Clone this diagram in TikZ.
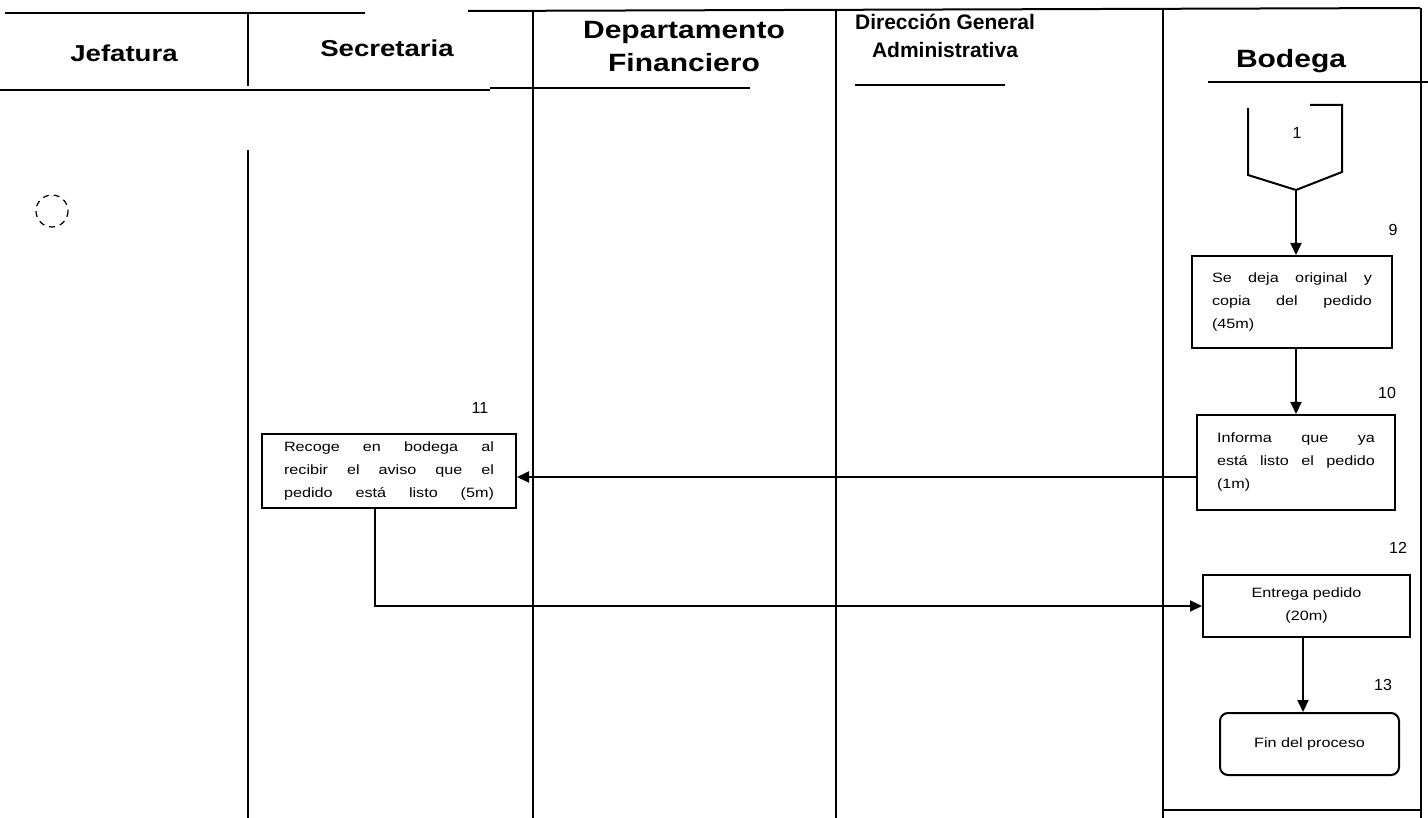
\documentclass[tikz,border=0pt]{standalone}
\usepackage{fontspec}
\setmainfont{Liberation Sans}
\newfontfamily\widesans[FakeStretch=1.2]{Liberation Sans}
\usetikzlibrary{arrows.meta,calc}
\begin{document}
\begin{tikzpicture}[x=1pt,y=-1pt,
  lane/.style={line width=2pt},
  head/.style={font=\widesans\fontsize{25}{33}\selectfont\bfseries, align=center, inner sep=0pt},
  heads/.style={font=\widesans\fontsize{23}{30}\selectfont\bfseries, align=center, inner sep=0pt},
  headn/.style={font=\fontsize{21}{28}\selectfont\bfseries, align=center, inner sep=0pt},
  proc/.style={draw, line width=2pt, align=left, inner sep=0pt,
    font=\widesans\fontsize{13.5}{23}\selectfont},
  fin/.style={proc, rounded corners=8pt, align=center},
  num/.style={font=\fontsize{16}{16}\selectfont, inner sep=0pt},
  arr/.style={line width=2pt, -{Triangle[length=12pt,width=11pt]}},
  link/.style={line width=2pt}
]
\useasboundingbox (0,0) rectangle (1428,818);

% header rules
\draw[lane] (5,13) -- (365,13);
\draw[lane] (468,11) -- (1420,8);
\draw[lane] (0,90) -- (490,90);
\draw[lane] (490,88) -- (750,88);
\draw[lane] (855,85) -- (1005,85);
\draw[lane] (1208,82) -- (1428,82);

% lane dividers
\draw[lane] (248,13) -- (248,86);
\draw[lane] (248,150) -- (248,818);
\draw[lane] (533,12) -- (533,818);
\draw[lane] (836,9) -- (836,818);
\draw[lane] (1163,8) -- (1163,818);
\draw[lane] (1421,8) -- (1421,818);
\draw[lane] (1163,810) -- (1421,810);

% lane titles
\node[heads] (hjef) at (124,53) {Jefatura};
\node[heads] (hsec) at (387,48) {Secretaria};
\node[head] (hfin) at (684,47) {Departamento\\Financiero};
\node[headn] (hdir) at (945,36) {Dirección General\\Administrativa};
\node[head] (hbod) at (1291,61) {Bodega};

% on-page connector in the first lane
\draw[line width=1.2pt, dash pattern=on 6pt off 5pt] (52,211) circle (16);

% off-page connector 1
\coordinate (c1tip) at (1296,190);
\draw[link] (1248,108) -- (1248,175) -- (c1tip) -- (1342,172) -- (1342,105) -- (1310,105);
\node[num] (c1) at (1297,133) {1};

% process steps
\node[proc, minimum width=200, minimum height=92, text width=160] (b9) at (1292,302)
  {Se \hfill deja \hfill original \hfill y\\ copia \hfill del \hfill pedido\\ (45m)};
\node[num] (n9) at (1393,230) {9};

\node[proc, minimum width=198, minimum height=95, text width=158] (b10) at (1296,462.5)
  {Informa \hfill que \hfill ya\\ está \hfill listo \hfill el \hfill pedido\\ (1m)};
\node[num] (n10) at (1387,393) {10};

\node[proc, minimum width=254, minimum height=74, text width=210] (b11) at (389,471)
  {Recoge \hfill en \hfill bodega \hfill al\\ recibir \hfill el \hfill aviso \hfill que \hfill el\\ pedido \hfill está \hfill listo \hfill (5m)};
\node[num] (n11) at (480,408) {11};

\node[proc, align=center, minimum width=207, minimum height=62] (b12) at (1306.5,606)
  {Entrega pedido\\(20m)};
\node[num] (n12) at (1398,548) {12};

\node[fin, minimum width=179, minimum height=62] (b13) at (1309.5,744) {Fin del proceso};
\node[num] (n13) at (1383,685) {13};

% flow
\coordinate (a13) at (1303,0);
\draw[arr] (c1tip) -- (c1tip |- b9.north);
\draw[arr] (c1tip |- b9.south) -- (c1tip |- b10.north);
\draw[arr] ($(b10.west)+(0,14.5)$) -- ($(b11.east)+(0,6)$);
\draw[arr] ($(b11.south)+(-14,0)$) |- (b12.west);
\draw[arr] (a13 |- b12.south) -- (a13 |- b13.north);
\end{tikzpicture}
\end{document}
